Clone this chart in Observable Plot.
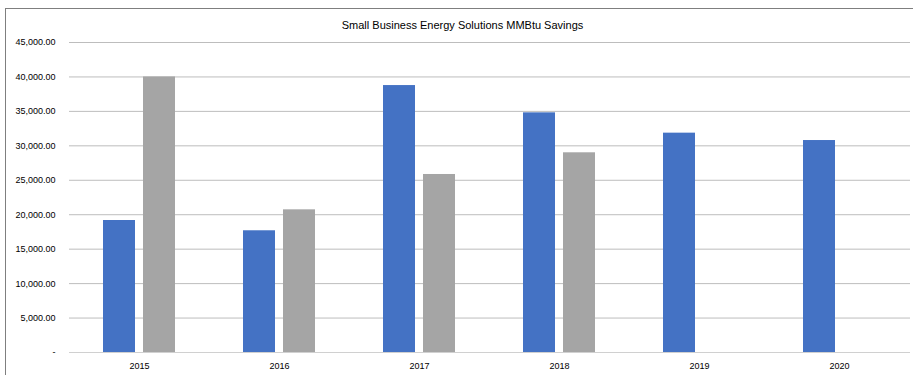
<!DOCTYPE html>
<html>
<head>
<meta charset="utf-8">
<script src="https://cdn.jsdelivr.net/npm/d3@7"></script>
<script src="https://cdn.jsdelivr.net/npm/@observablehq/plot@0.6"></script>
<style>
  html, body { margin: 0; padding: 0; background: #fff; overflow: hidden; }
  #wrap { position: relative; width: 913px; height: 375px; }
  #frame { position: absolute; left: 5px; top: 8px; width: 940px; height: 400px; border: 1px solid #7f7f7f; box-sizing: border-box; }
  #title { position: absolute; left: 0; top: 19px; width: 925px; text-align: center; font-family: "Liberation Sans", Arial, sans-serif; font-size: 11px; color: #000; }
  #chart { position: absolute; left: 0; top: 35px; }
</style>
</head>
<body>
<div id="wrap">
  <div id="frame"></div>
  <div id="title">Small Business Energy Solutions MMBtu Savings</div>
  <div id="chart"></div>
</div>
<script>
const years = ["2015", "2016", "2017", "2018", "2019", "2020"];
const seriesA = [19160, 17670, 38750, 34790, 31840, 30770];
const seriesB = [40000, 20710, 25840, 28990, null, null];
const yTicks = [0, 5000, 10000, 15000, 20000, 25000, 30000, 35000, 40000, 45000];

const rowsA = years.map((y, i) => ({year: y, value: seriesA[i]}));
const rowsB = years.map((y, i) => ({year: y, value: seriesB[i]})).filter(d => d.value != null);

const fmt = d3.format(",.2f");

const chart = Plot.plot({
  width: 913,
  height: 340,
  marginLeft: 69,
  marginRight: 3,
  marginTop: 7,
  marginBottom: 23,
  style: {fontFamily: "'Liberation Sans', Arial, sans-serif", fontSize: "9px", color: "#000", background: "transparent"},
  x: {domain: years, paddingInner: 0.485, paddingOuter: 0.2425, axis: null},
  y: {domain: [0, 45000], axis: null},
  marks: [
    Plot.ruleY(yTicks.filter(d => d > 0), {stroke: "#bdbdbd", strokeWidth: 1}),
    Plot.ruleY([0], {stroke: "#d0d0d0", strokeWidth: 1}),
    Plot.barY(rowsA, {x: "year", y: "value", fill: "#4472C4", insetRight: 40, insetLeft: 0}),
    Plot.barY(rowsB, {x: "year", y: "value", fill: "#A5A5A5", insetLeft: 40, insetRight: 0}),
    Plot.axisY({ticks: yTicks, tickSize: 0, tickPadding: 14, tickFormat: d => d === 0 ? "-" : fmt(d), fontSize: 9, label: null}),
    Plot.axisX({tickSize: 0, tickPadding: 10, fontSize: 9, label: null})
  ]
});
document.getElementById("chart").appendChild(chart);
</script>
</body>
</html>
